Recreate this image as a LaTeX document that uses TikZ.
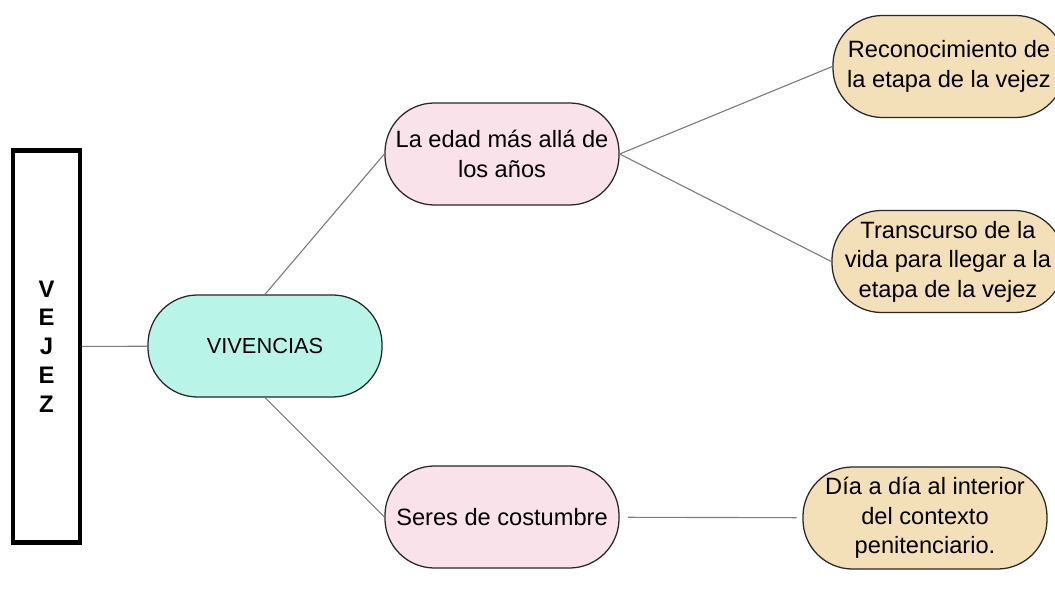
\documentclass[tikz,border=0pt]{standalone}
\usepackage{fontspec}
\setmainfont{Liberation Sans}
\usepackage{tikz}

\definecolor{aguamarina}{RGB}{184,245,232}
\definecolor{rosado}{RGB}{249,226,233}
\definecolor{trigo}{RGB}{244,224,184}
\definecolor{borde}{RGB}{40,40,40}
\definecolor{rama}{RGB}{125,125,125}

\begin{document}
\begin{tikzpicture}[
            x=0.025cm, y=-0.025cm,
            burbuja/.style = {
                draw=borde,
                line width=0.9pt,
                rounded corners=1.24cm,
                minimum width=5.85cm,
                minimum height=2.55cm,
                inner sep=0pt,
                align=center,
                font=\fontsize{16.8}{21}\selectfont
            },
            centro/.style = {burbuja, fill=aguamarina},
            tema/.style = {burbuja, fill=rosado},
            hoja/.style = {burbuja, fill=trigo},
            rama/.style = {draw=rama, line width=0.8pt}
        ]
            \clip (0,0) rectangle (1055,597);

            \node[draw=black, line width=3pt, minimum width=1.68cm, minimum height=9.8cm,
                  align=center, font=\bfseries\fontsize{17}{20.5}\selectfont]
                (vejez) at (46.5,346.5) {V\\E\\J\\E\\Z};

            \node[centro, font=\fontsize{15.5}{19}\selectfont] (vivencias) at (265,346) {VIVENCIAS};

            \node[tema] (edad) at (502,154) {La edad más allá de\\los años};
            \node[tema] (seres) at (502,517) {Seres de costumbre};

            \node[hoja, minimum width=5.8cm] (reconoc) at (949,66.5) {Reconocimiento de\\la etapa de la vejez};
            \node[hoja, minimum width=5.8cm] (transc) at (948,261.5) {Transcurso de la\\vida para llegar a la\\etapa de la vejez};
            \node[hoja, minimum width=6.1cm] (dia) at (925,518) {Día a día al interior\\del contexto\\penitenciario.};

            \draw[rama] (vejez) -- (vivencias);

            \draw[rama] (vivencias.north) -- (edad.west);
            \draw[rama] (vivencias.south) -- (seres.west);

            \draw[rama] (edad.east) -- (reconoc.west);
            \draw[rama] (edad.east) -- (transc.west);

            \draw[rama, shorten <=6pt, shorten >=4pt] (seres) -- (dia);

        \end{tikzpicture}
\end{document}
